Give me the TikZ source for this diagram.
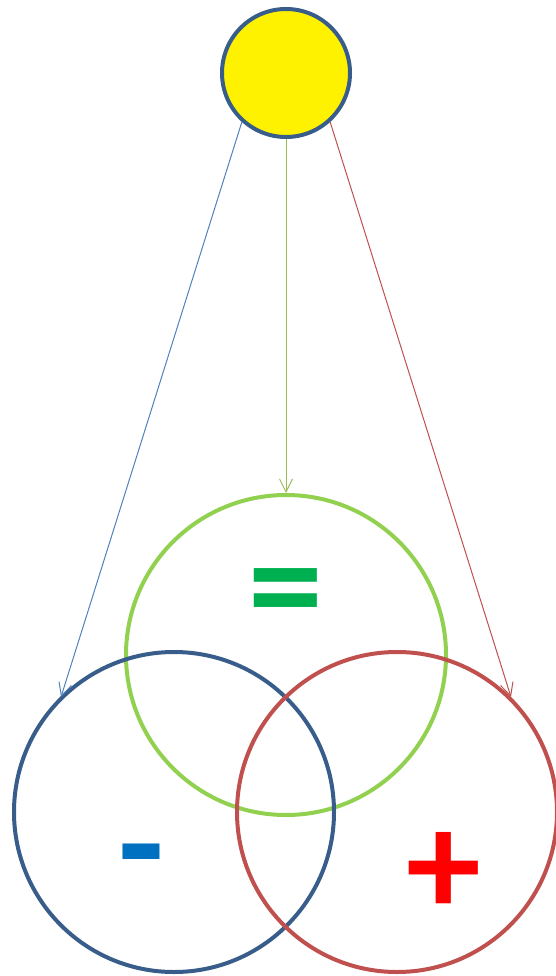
\documentclass[tikz,border=0pt]{standalone}
\usepackage{fontspec}
\setmainfont{Carlito}
\usetikzlibrary{arrows.meta}
\definecolor{sunline}{HTML}{385D8A}
\definecolor{bluering}{HTML}{385D8A}
\definecolor{greenring}{HTML}{92D050}
\definecolor{redring}{HTML}{C0504D}
\definecolor{bluearrow}{HTML}{4F81BD}
\definecolor{greenarrow}{HTML}{9BBB59}
\definecolor{redarrow}{HTML}{C0504D}
\definecolor{eqgreen}{HTML}{00B050}
\definecolor{minblue}{HTML}{0070C0}
\definecolor{plusred}{HTML}{FF0000}
\begin{document}
\begin{tikzpicture}[x=1pt,y=-1pt,
  ring/.style={circle,draw,line width=4pt,minimum size=320pt,inner sep=0pt},
  conn/.style={line width=1pt,-{Straight Barb[length=13pt,width=13pt]}},
  sym/.style={font=\bfseries\fontsize{150}{150}\selectfont,inner sep=0pt}]
\useasboundingbox (0,0) rectangle (556,976);
\node[circle,draw=sunline,fill=yellow,line width=4pt,minimum size=128pt,inner sep=0pt] (sun) at (286,73) {};
\node[ring,draw=greenring] (eqc) at (286,655) {};
\node[ring,draw=bluering] (minc) at (174,812) {};
\node[ring,draw=redring] (plusc) at (397,812) {};
\coordinate (bt) at (61,697);
\coordinate (rt) at (511,697);
\draw[conn,draw=bluearrow] (sun.-132) -- (bt);
\draw[conn,draw=greenarrow] (sun.south) -- (eqc.north);
\draw[conn,draw=redarrow] (sun.-48) -- (rt);
\node[sym,text=eqgreen] (eq) at (286,602) {=};
\node[sym,text=minblue] (mn) at (141,869) {-};
\node[sym,text=plusred] (pl) at (444,874) {+};
\end{tikzpicture}
\end{document}
